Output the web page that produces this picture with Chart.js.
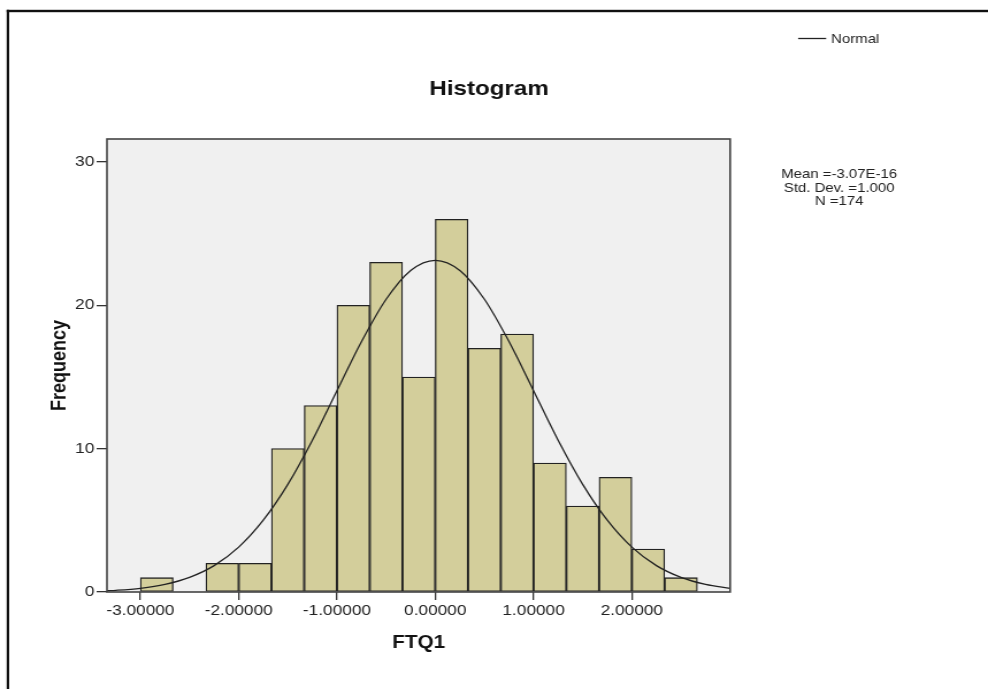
<!DOCTYPE html>
<html><head><meta charset="utf-8">
<script src="https://cdn.jsdelivr.net/npm/chart.js@4.4.0/dist/chart.umd.min.js"></script>
<style>html,body{margin:0;padding:0;background:#fff;overflow:hidden}
#c{display:block}</style></head>
<body><canvas id="c" width="859" height="689" style="width:988px;height:689px"></canvas>
<script>
// ---- data ----
const binCenters = [-2.83333,-2.5,-2.16667,-1.83333,-1.5,-1.16667,-0.83333,-0.5,-0.16667,0.16667,0.5,0.83333,1.16667,1.5,1.83333,2.16667,2.5];
const frequencies = [1,0,2,2,10,13,20,23,15,26,17,18,9,6,8,3,1];
const normalX = [-3.34,-3.25,-3.0,-2.75,-2.5,-2.25,-2.0,-1.75,-1.5,-1.25,-1.0,-0.75,-0.5,-0.25,0,0.25,0.5,0.75,1.0,1.25,1.5,1.75,2.0,2.25,2.5,2.75,3.0];
const normalY = [0.09,0.12,0.26,0.53,1.02,1.84,3.13,5.01,7.51,10.59,14.04,17.47,20.42,22.43,23.14,22.43,20.42,17.47,14.04,10.59,7.51,5.01,3.13,1.84,1.02,0.53,0.26];
const xTickValues = [-3,-2,-1,0,1,2];
const xTickLabels = ['-3.00000','-2.00000','-1.00000','0.00000','1.00000','2.00000'];
const yTickValues = [0,10,20,30];
const yTickLabels = ['0','10','20','30'];
const chartTitle = 'Histogram';
const xTitle = 'FTQ1';
const yTitle = 'Frequency';
const legendLabel = 'Normal';
const statsLines = ['Mean =-3.07E-16','Std. Dev. =1.000','N =174'];

// ---- layout ----
const FONT = '"Liberation Sans", Arial, Helvetica, sans-serif';
const W = 859;
const plotLeft = 93, plotRight = 634.8, plotTop = 139, plotBottom = 592;

const decor = {
  id: 'decor',
  beforeDraw(chart) {
    const c = chart.ctx, a = chart.chartArea;
    c.save();
    c.fillStyle = '#ffffff';
    c.fillRect(0, 0, chart.width, chart.height);
    c.fillStyle = '#f0f0f0';
    c.fillRect(a.left, a.top, a.right - a.left, a.bottom - a.top);
    c.restore();
  },
  afterDraw(chart) {
    const c = chart.ctx, a = chart.chartArea;
    c.save();
    // plot frame
    c.strokeStyle = '#444';
    c.lineWidth = 1.6;
    c.strokeRect(a.left, a.top, a.right - a.left, a.bottom - a.top);
    // outer frame (top and left)
    c.fillStyle = '#111';
    c.fillRect(5.8, 9.8, chart.width, 2.4);
    c.fillRect(5.8, 9.8, 2.2, chart.height);
    // title
    c.fillStyle = '#111';
    c.font = 'bold 21px ' + FONT;
    c.textAlign = 'center';
    c.textBaseline = 'alphabetic';
    c.fillText(chartTitle, 425.2, 95);
    // legend
    c.strokeStyle = '#222';
    c.lineWidth = 1.3;
    c.beginPath();
    c.moveTo(693.9, 38.5); c.lineTo(718.3, 38.5);
    c.stroke();
    c.font = '13px ' + FONT;
    c.textAlign = 'left';
    c.fillStyle = '#222';
    c.fillText(legendLabel, 722.6, 43);
    // stats
    c.textAlign = 'center';
    const ys = [178, 191.5, 205];
    statsLines.forEach((t, i) => c.fillText(t, 729.6, ys[i]));
    c.restore();
  }
};

new Chart(document.getElementById('c'), {
  data: {
    datasets: [
      {
        type: 'line', label: legendLabel,
        data: normalX.map((x, i) => ({x: x, y: normalY[i]})),
        borderColor: '#222', borderWidth: 1.3, pointRadius: 0,
        cubicInterpolationMode: 'monotone', fill: false, order: 0
      },
      {
        type: 'bar', label: xTitle,
        data: binCenters.map((x, i) => ({x: x, y: frequencies[i]})),
        backgroundColor: '#d3ce9b', borderColor: '#222', borderWidth: 1.3,
        borderSkipped: false, barPercentage: 1, categoryPercentage: 1, order: 1
      }
    ]
  },
  options: {
    responsive: false, animation: false, devicePixelRatio: 1,
    events: [],
    layout: { padding: { top: plotTop, right: W - plotRight, bottom: 0, left: 0 } },
    plugins: { legend: { display: false }, tooltip: { enabled: false }, title: { display: false } },
    scales: {
      x: {
        type: 'linear', min: -3.34, max: 3.0, offset: false,
        afterBuildTicks: s => { s.ticks = xTickValues.map(v => ({value: v})); },
        afterFit: s => { s.height = 689 - plotBottom; },
        ticks: {
          callback: (v, i) => xTickLabels[i], autoSkip: false, maxRotation: 0,
          font: { family: FONT, size: 15 }, color: '#222', padding: 2
        },
        grid: { display: true, offset: false, drawOnChartArea: false, drawTicks: true, tickLength: 8, color: '#333', lineWidth: 1.3 },
        border: { display: false },
        title: { display: true, text: xTitle, color: '#111', font: { family: FONT, size: 18, weight: 'bold' }, padding: { top: 0, bottom: 35 } }
      },
      y: {
        type: 'linear', min: 0, max: 31.6,
        afterBuildTicks: s => { s.ticks = yTickValues.map(v => ({value: v})); },
        afterFit: s => { s.width = plotLeft; },
        ticks: {
          callback: (v, i) => yTickLabels[i],
          font: { family: FONT, size: 15 }, color: '#222', padding: 2
        },
        grid: { display: true, drawOnChartArea: false, drawTicks: true, tickLength: 9, color: '#333', lineWidth: 1.3 },
        border: { display: false },
        title: { display: true, text: yTitle, color: '#111', font: { family: FONT, size: 18, weight: 'bold' }, padding: { top: 41, bottom: 0 } }
      }
    }
  },
  plugins: [decor]
});
</script>
</body></html>
